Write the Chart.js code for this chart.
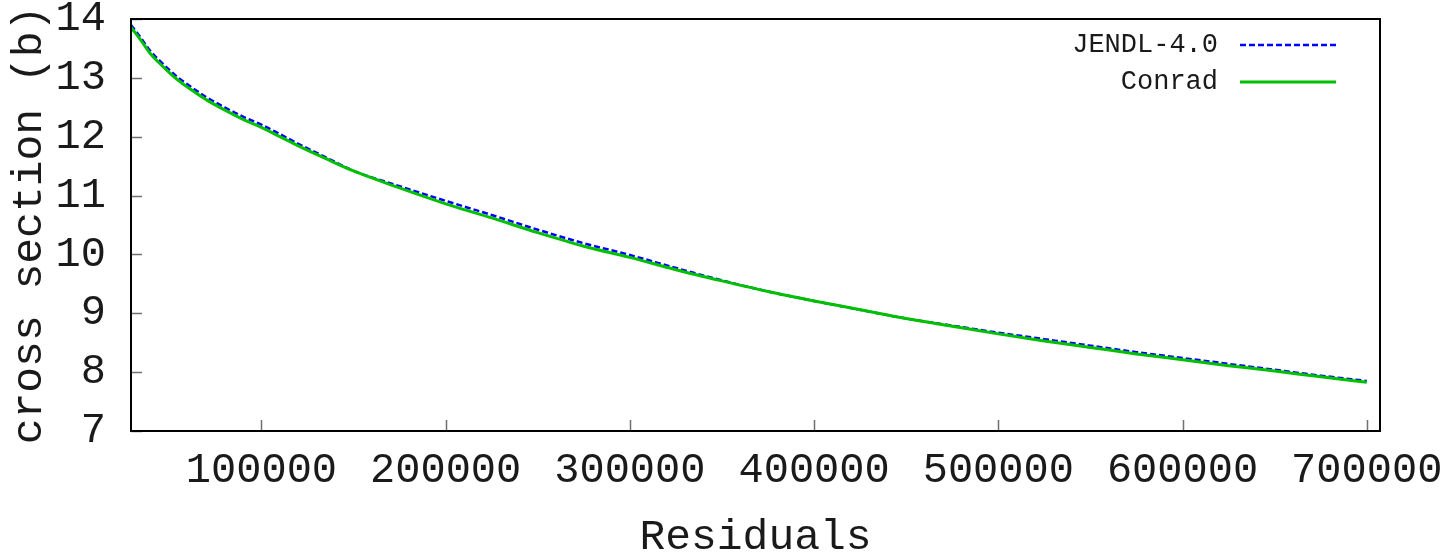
<!DOCTYPE html>
<html><head><meta charset="utf-8">
<script src="https://cdn.jsdelivr.net/npm/chart.js@4.4.1/dist/chart.umd.min.js"></script>
<style>html,body{margin:0;padding:0;background:#fff}</style>
</head><body>
<canvas id="c" width="1448" height="558" style="display:block;width:1448px;height:558px"></canvas>
<script>
const energies = [29200, 35000, 40000, 45000, 50000, 55000, 60000, 70000, 80000, 90000, 100000,
  110000, 120000, 135000, 150000, 175000, 200000, 225000, 250000, 275000, 300000,
  325000, 350000, 375000, 400000, 425000, 450000, 475000, 500000, 525000, 550000,
  575000, 600000, 625000, 650000, 675000, 700000];
const jendl = [13.90, 13.66, 13.445, 13.285, 13.135, 13.0, 12.885, 12.675, 12.50, 12.34, 12.205,
  12.045, 11.88, 11.65, 11.42, 11.16, 10.91, 10.67, 10.42, 10.19, 9.99,
  9.77, 9.56, 9.37, 9.21, 9.06, 8.91, 8.79, 8.67, 8.56, 8.45,
  8.34, 8.24, 8.14, 8.04, 7.94, 7.85];
const conrad = [13.86, 13.62, 13.40, 13.24, 13.09, 12.955, 12.84, 12.63, 12.455, 12.295, 12.16,
  12.00, 11.846, 11.627, 11.418, 11.13, 10.86, 10.62, 10.37, 10.14, 9.95,
  9.74, 9.55, 9.37, 9.21, 9.06, 8.91, 8.78, 8.65, 8.53, 8.42,
  8.31, 8.21, 8.11, 8.02, 7.92, 7.83];
const seriesLabels = ['JENDL-4.0', 'Conrad'];
const xTicks = [100000, 200000, 300000, 400000, 500000, 600000, 700000];
const yTicks = [7, 8, 9, 10, 11, 12, 13, 14];
const xTitle = 'Residuals';
const yTitle = 'cross section (b)';

const MONO = '"Liberation Mono", "DejaVu Sans Mono", monospace';
const TXT = '#1a1a1a';

const gnuplotFrame = {
  id: 'gnuplotFrame',
  afterDatasetsDraw(chart) {
    const ctx = chart.ctx, a = chart.chartArea;
    const xs = chart.scales.x, ys = chart.scales.y;
    ctx.save();
    // inner ticks
    ctx.strokeStyle = '#707070';
    ctx.lineWidth = 1.5;
    ctx.beginPath();
    yTicks.forEach(v => {
      const p = Math.round(ys.getPixelForValue(v)) + 0.5;
      ctx.moveTo(a.left, p); ctx.lineTo(a.left + 11, p);
    });
    xTicks.forEach(v => {
      const p = Math.round(xs.getPixelForValue(v)) + 0.5;
      ctx.moveTo(p, a.bottom); ctx.lineTo(p, a.bottom - 11);
    });
    ctx.stroke();
    // frame
    ctx.strokeStyle = '#000';
    ctx.lineWidth = 2;
    ctx.strokeRect(a.left, a.top, a.right - a.left, a.bottom - a.top);
    // legend (text left, sample right, gnuplot style)
    ctx.font = '27px ' + MONO;
    ctx.textAlign = 'right';
    ctx.textBaseline = 'middle';
    const rows = [45, 82];
    chart.data.datasets.forEach((ds, i) => {
      const y = rows[i];
      ctx.fillStyle = TXT;
      ctx.fillText(ds.label, 1218, y);
      ctx.beginPath();
      ctx.strokeStyle = ds.borderColor;
      ctx.lineWidth = ds.borderWidth;
      ctx.setLineDash(ds.borderDash || []);
      ctx.moveTo(1240, y); ctx.lineTo(1336, y);
      ctx.stroke();
      ctx.setLineDash([]);
    });
    ctx.restore();
  }
};

new Chart(document.getElementById('c'), {
  type: 'line',
  data: {
    datasets: [
      { label: seriesLabels[0], data: energies.map((x, i) => ({x, y: jendl[i]})),
        borderColor: '#0000ff', borderWidth: 2.5, borderDash: [6, 3], order: 1 },
      { label: seriesLabels[1], data: energies.map((x, i) => ({x, y: conrad[i]})),
        borderColor: '#00c000', borderWidth: 3, order: 0 }
    ]
  },
  options: {
    responsive: false,
    animation: false,
    devicePixelRatio: 1,
    elements: { point: { radius: 0 }, line: { cubicInterpolationMode: 'monotone', fill: false } },
    layout: { padding: { top: 19, right: 68, left: 0, bottom: 0 } },
    plugins: { legend: { display: false }, tooltip: { enabled: false } },
    scales: {
      x: {
        type: 'linear', min: 29200, max: 707200,
        grid: { display: false, drawTicks: false }, border: { display: false },
        afterBuildTicks: s => { s.ticks = xTicks.map(v => ({value: v})); },
        afterFit: s => { s.height = 127; s.paddingLeft = 0; s.paddingRight = 0; },
        ticks: { callback: v => String(v), maxRotation: 0, autoSkip: false, padding: 19,
          color: TXT, font: { family: MONO, size: 42, lineHeight: 1 } },
        title: { display: true, text: xTitle, color: TXT, padding: { top: 0, bottom: -1 },
          font: { family: MONO, size: 43, lineHeight: 1 } }
      },
      y: {
        type: 'linear', min: 7, max: 14,
        grid: { display: false, drawTicks: false }, border: { display: false },
        afterBuildTicks: s => { s.ticks = yTicks.map(v => ({value: v})); },
        afterFit: s => { s.width = 131; s.paddingTop = 0; s.paddingBottom = 0; },
        ticks: { callback: v => String(v), autoSkip: false, padding: 25,
          color: TXT, font: { family: MONO, size: 42, lineHeight: 1 } },
        title: { display: true, text: yTitle, color: TXT, padding: { top: 4, bottom: 0 },
          font: { family: MONO, size: 43 } }
      }
    }
  },
  plugins: [gnuplotFrame]
});
</script>
</body></html>
